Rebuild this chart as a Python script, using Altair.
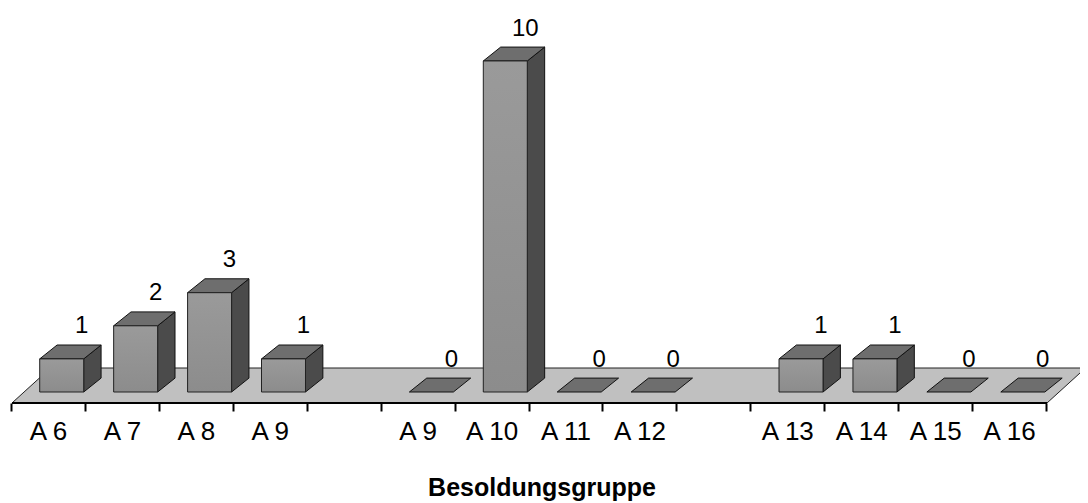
import altair as alt
import pandas as pd

categories = ["A 6", "A 7", "A 8", "A 9", "", "A 9", "A 10", "A 11", "A 12", "", "A 13", "A 14", "A 15", "A 16"]
values = [1, 2, 3, 1, None, 0, 10, 0, 0, None, 1, 1, 0, 0]

FONT = "Liberation Sans"
# depth of the pseudo-3D projection, in axis units
BAR_L, BAR_R = 0.375, 0.97
DX, DY = 0.235, 0.42
FLOOR_Y0, FLOOR_Y1 = -0.332, 0.725
FLOOR_DX = 0.52
LABEL_DX, LABEL_DY = 0.27, 0.56
XDOM = [-0.054, 14.446]
YDOM = [FLOOR_Y0, 11.6]

xs = alt.Scale(domain=XDOM, nice=False, zero=False)
ys = alt.Scale(domain=YDOM, nice=False, zero=False)
X = lambda f, **k: alt.X(f, type="quantitative", scale=xs, **k)
Y = lambda f: alt.Y(f, type="quantitative", scale=ys, axis=None)

bars = pd.DataFrame(
    [
        {"slot": i, "cat": c, "v": v, "x0": i + BAR_L, "x1": i + BAR_R}
        for i, (c, v) in enumerate(zip(categories, values))
        if v is not None
    ]
)
bars["lx"] = bars["x0"] + (BAR_R - BAR_L) / 2 + LABEL_DX
bars["ly"] = bars["v"] + DY + LABEL_DY

sides, tops = [], []
for r in bars.itertuples():
    if r.v > 0:
        sides += [
            {"slot": r.slot, "x": r.x1, "y": 0.0, "y2": r.v},
            {"slot": r.slot, "x": r.x1 + DX, "y": DY, "y2": r.v + DY},
        ]
    tops += [
        {"slot": r.slot, "y": r.v, "x": r.x0, "x2": r.x1},
        {"slot": r.slot, "y": r.v + DY, "x": r.x0 + DX, "x2": r.x1 + DX},
    ]
sides = pd.DataFrame(sides)
tops = pd.DataFrame(tops)
floor = pd.DataFrame(
    [
        {"y": FLOOR_Y0, "x": 0, "x2": 14},
        {"y": FLOOR_Y1, "x": FLOOR_DX, "x2": 14 + FLOOR_DX},
    ]
)
axis_line = pd.DataFrame([{"x": 0, "x2": 14, "y": FLOOR_Y0}])

label_expr = "[" + ",".join(f"'{c}'" for c in categories) + ",''][datum.value]"

floor_l = alt.Chart(floor).mark_area(
    orient="horizontal", color="#c0c0c0", stroke="#222222", strokeWidth=1
).encode(
    x=X("x:Q",
        axis=alt.Axis(
            values=list(range(15)), labelExpr=label_expr, labelOffset=37, tickOffset=-1,
            domain=False, grid=False, ticks=True, tickColor="black", tickWidth=2, tickSize=8,
            labelFont=FONT, labelFontSize=26, labelColor="black", labelPadding=7,
            labelOverlap=False, labelFlush=False, labelBound=False, labelAngle=0,
            title="Besoldungsgruppe", titleFont=FONT, titleFontSize=25, titleFontWeight="bold",
            titleColor="black", titleX=533.5, titleY=92, titleBaseline="alphabetic", titleAlign="center",
        )),
    x2="x2:Q",
    y=Y("y:Q"),
)
axis_l = alt.Chart(axis_line).mark_rule(color="black", strokeWidth=2).encode(
    x=X("x:Q"), x2="x2:Q", y=Y("y:Q")
)
side_l = alt.Chart(sides).mark_area(color="#4b4b4b", stroke="#111111", strokeWidth=1).encode(
    x=X("x:Q"), y=Y("y:Q"), y2="y2:Q", detail="slot:N"
)
top_l = alt.Chart(tops).mark_area(orient="horizontal", color="#6e6e6e", stroke="#111111", strokeWidth=1).encode(
    x=X("x:Q"), x2="x2:Q", y=Y("y:Q"), detail="slot:N"
)
front_l = alt.Chart(bars[bars.v > 0]).transform_calculate(base="0").mark_rect(
    color=alt.Gradient(
        gradient="linear", x1=0, y1=0, x2=0, y2=1,
        stops=[alt.GradientStop(color="#9a9a9a", offset=0), alt.GradientStop(color="#8c8c8c", offset=1)],
    ),
    stroke="#222222", strokeWidth=1,
).encode(x=X("x0:Q"), x2="x1:Q", y=Y("v:Q"), y2="base:Q")
text_l = alt.Chart(bars).mark_text(font=FONT, fontSize=24, color="black", baseline="middle", align="center").encode(
    x=X("lx:Q"), y=Y("ly:Q"), text="v:Q"
)

chart = (
    alt.layer(floor_l, axis_l, side_l, top_l, front_l, text_l)
    .properties(
        width=1072, height=395, background="white",
        autosize=alt.AutoSizeParams(type="none"),
        padding={"left": 0, "right": 0, "top": 0, "bottom": 98},
    )
    .configure_view(stroke=None)
)
chart.save("out.html", embed_options={"renderer": "svg", "actions": False})
